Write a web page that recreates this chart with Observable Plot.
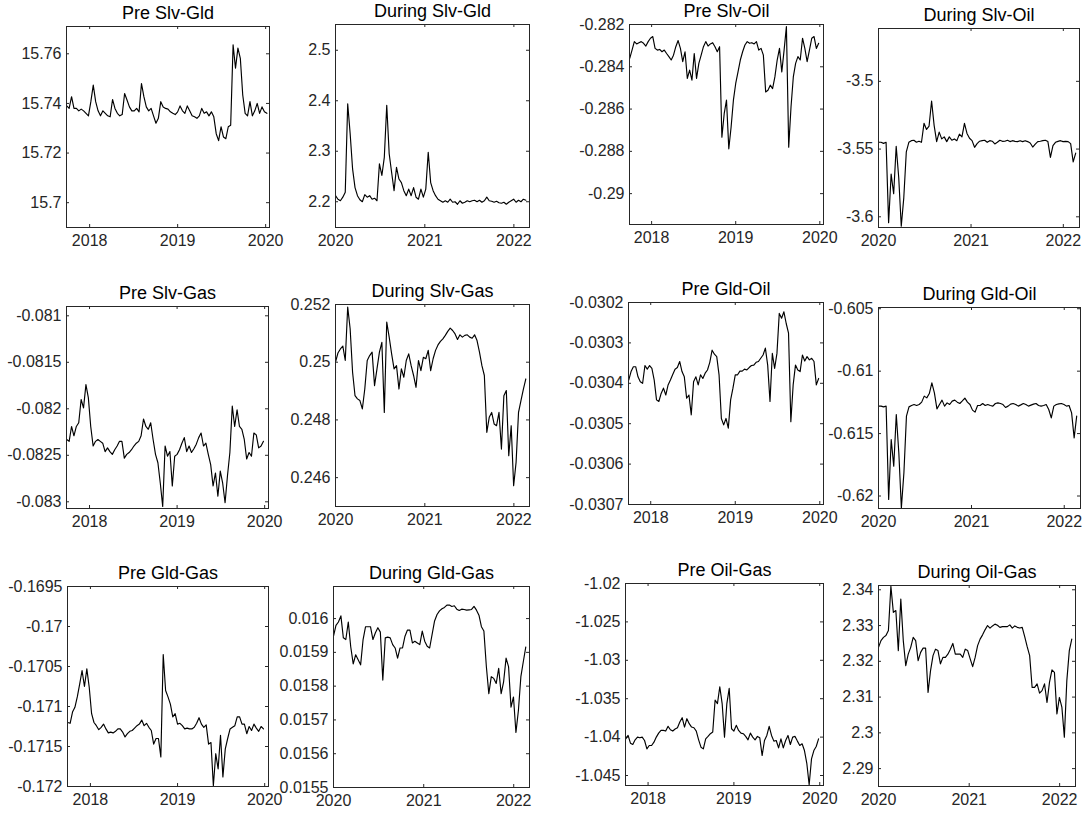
<!DOCTYPE html>
<html>
<head>
<meta charset="utf-8">
<script src="https://cdn.jsdelivr.net/npm/d3@7"></script>
<script src="https://cdn.jsdelivr.net/npm/@observablehq/plot@0.6"></script>
<style>
  html, body { margin: 0; padding: 0; background: #fff; }
  #page { position: relative; width: 1084px; height: 813px; overflow: hidden; background: #fff; }
  .cell { position: absolute; }
</style>
</head>
<body>
<div id="page"></div>
<script>
// ---------------- data ----------------
const preStart = "2017-09-28";     // first observation, pre-COVID window
const duringStart = "2020-01-01";  // first observation, during-COVID window
const stepDays = 10;               // spacing between observations
const preDomain = ["2017-09-27", "2020-01-17"];
const duringDomain = ["2020-01-01", "2022-03-06"];
const preYears = [2018, 2019, 2020];
const duringYears = [2020, 2021, 2022];

const titles = ["Pre Slv-Gld", "During Slv-Gld", "Pre Slv-Oil", "During Slv-Oil",
  "Pre Slv-Gas", "During Slv-Gas", "Pre Gld-Oil", "During Gld-Oil",
  "Pre Gld-Gas", "During Gld-Gas", "Pre Oil-Gas", "During Oil-Gas"];

const preSlvGld = [15.739, 15.738, 15.7427, 15.738, 15.738, 15.737, 15.7377, 15.737, 15.736, 15.735,
  15.7407, 15.7474, 15.7407, 15.737, 15.735, 15.737, 15.736, 15.735, 15.7346, 15.7416,
  15.738, 15.736, 15.735, 15.7355, 15.744, 15.7414, 15.7386, 15.737, 15.737, 15.738,
  15.7366, 15.748, 15.7427, 15.7386, 15.737, 15.738, 15.735, 15.732, 15.734, 15.7407,
  15.7386, 15.738, 15.7377, 15.7366, 15.736, 15.7355, 15.7366, 15.739, 15.737, 15.736,
  15.739, 15.737, 15.735, 15.7346, 15.734, 15.735, 15.738, 15.736, 15.7366, 15.735,
  15.7366, 15.7346, 15.7278, 15.725, 15.7306, 15.7265, 15.7258, 15.7306, 15.7312, 15.7636,
  15.7542, 15.7623, 15.7582, 15.7434, 15.736, 15.735, 15.7407, 15.735, 15.737, 15.74,
  15.736, 15.7386, 15.7366, 15.736];

const duringSlvGld = [2.212, 2.205, 2.202, 2.209, 2.219, 2.394, 2.335, 2.265, 2.228, 2.212,
  2.204, 2.2, 2.214, 2.209, 2.212, 2.205, 2.207, 2.202, 2.275, 2.252,
  2.288, 2.391, 2.295, 2.258, 2.222, 2.268, 2.245, 2.238, 2.222, 2.212,
  2.225, 2.212, 2.228, 2.209, 2.205, 2.225, 2.209, 2.225, 2.298, 2.238,
  2.222, 2.212, 2.205, 2.202, 2.199, 2.202, 2.199, 2.205, 2.199, 2.2,
  2.195, 2.202, 2.197, 2.199, 2.202, 2.2, 2.202, 2.203, 2.2, 2.203,
  2.199, 2.202, 2.209, 2.202, 2.201, 2.199, 2.201, 2.198, 2.197, 2.199,
  2.195, 2.199, 2.202, 2.205, 2.199, 2.203, 2.2, 2.205, 2.203];

const preSlvOil = [-0.2836, -0.28321, -0.28281, -0.28292, -0.28286, -0.28281, -0.28289, -0.28302, -0.28281, -0.28265,
  -0.28257, -0.28313, -0.28321, -0.28318, -0.28329, -0.28321, -0.28337, -0.28352, -0.28368, -0.28345,
  -0.28305, -0.28276, -0.28313, -0.28376, -0.28329, -0.28455, -0.28416, -0.28463, -0.28337, -0.28455,
  -0.28384, -0.28345, -0.28305, -0.28281, -0.28302, -0.28292, -0.28286, -0.28305, -0.28329, -0.28305,
  -0.28733, -0.28622, -0.28558, -0.28788, -0.28685, -0.28558, -0.28479, -0.28424, -0.28368, -0.28329,
  -0.28297, -0.28281, -0.28289, -0.28286, -0.28292, -0.28281, -0.28321, -0.28313, -0.28345, -0.28519,
  -0.28511, -0.28487, -0.28503, -0.28448, -0.28368, -0.28313, -0.28424, -0.28321, -0.2821, -0.2878,
  -0.2859, -0.28448, -0.28384, -0.28352, -0.28368, -0.28265, -0.28313, -0.28376, -0.28321, -0.28265,
  -0.28257, -0.28313, -0.28289];

const duringSlvOil = [-3.545, -3.545, -3.5458, -3.545, -3.6043, -3.5685, -3.583, -3.548, -3.571, -3.607,
  -3.586, -3.552, -3.545, -3.5438, -3.5435, -3.545, -3.5442, -3.545, -3.531, -3.5355,
  -3.533, -3.5145, -3.5325, -3.5445, -3.5375, -3.5425, -3.541, -3.5445, -3.541, -3.5435,
  -3.5425, -3.5438, -3.539, -3.541, -3.531, -3.5385, -3.542, -3.5438, -3.5487, -3.546,
  -3.5442, -3.5438, -3.5435, -3.545, -3.5438, -3.5442, -3.5462, -3.545, -3.5435, -3.5443,
  -3.5442, -3.5435, -3.5445, -3.5438, -3.5443, -3.5445, -3.5438, -3.5445, -3.5438, -3.5445,
  -3.5455, -3.5485, -3.5463, -3.5445, -3.5442, -3.5438, -3.5435, -3.5445, -3.5562, -3.5475,
  -3.545, -3.5443, -3.5438, -3.5445, -3.5443, -3.5445, -3.546, -3.5595, -3.553];

const preSlvGas = [-0.08233, -0.08235, -0.08219, -0.08229, -0.08219, -0.08215, -0.0819, -0.08199, -0.08174, -0.08188,
  -0.08219, -0.0824, -0.08235, -0.08233, -0.08235, -0.08237, -0.08246, -0.08242, -0.08246, -0.08249,
  -0.08244, -0.0824, -0.08235, -0.08235, -0.08253, -0.08249, -0.08247, -0.08244, -0.0824, -0.08237,
  -0.08235, -0.08229, -0.08211, -0.08219, -0.08222, -0.08215, -0.08233, -0.08249, -0.08258, -0.0828,
  -0.08305, -0.0824, -0.08251, -0.08246, -0.08283, -0.08251, -0.08249, -0.08244, -0.08237, -0.08231,
  -0.08246, -0.0824, -0.08247, -0.08243, -0.08238, -0.08231, -0.08226, -0.0824, -0.08237, -0.08249,
  -0.0826, -0.08283, -0.08269, -0.08294, -0.08267, -0.0828, -0.08301, -0.08272, -0.08247, -0.08197,
  -0.08219, -0.08201, -0.08219, -0.08222, -0.08233, -0.08254, -0.08247, -0.08251, -0.08226, -0.08228,
  -0.08242, -0.0824, -0.08235];

const duringSlvGas = [0.25, 0.25032, 0.25046, 0.25056, 0.25006, 0.25191, 0.25116, 0.24965, 0.24884, 0.24873,
  0.24867, 0.24838, 0.24907, 0.25006, 0.25023, 0.25035, 0.24919, 0.24977, 0.25035, 0.25069,
  0.24826, 0.25139, 0.25087, 0.25029, 0.24977, 0.24988, 0.24907, 0.24977, 0.24948, 0.25006,
  0.25029, 0.24988, 0.24954, 0.24913, 0.25006, 0.24971, 0.25017, 0.25012, 0.25041, 0.24971,
  0.25012, 0.25041, 0.2506, 0.25072, 0.25081, 0.25093, 0.25107, 0.25118, 0.2511, 0.25098,
  0.25079, 0.25095, 0.25087, 0.25093, 0.25095, 0.25087, 0.25083, 0.25095, 0.25075, 0.25035,
  0.24988, 0.24954, 0.24757, 0.24809, 0.24826, 0.24786, 0.2478, 0.24826, 0.24699, 0.24884,
  0.24902, 0.24676, 0.2478, 0.24572, 0.24653, 0.24826, 0.24867, 0.24907, 0.24942];

const preGldOil = [-0.030392, -0.030371, -0.030359, -0.030359, -0.030384, -0.030396, -0.0304, -0.030356, -0.030365, -0.030356,
  -0.030363, -0.030392, -0.030441, -0.030445, -0.030425, -0.030412, -0.030429, -0.030404, -0.030392, -0.030378,
  -0.030365, -0.030361, -0.030346, -0.030371, -0.030384, -0.030437, -0.030429, -0.030478, -0.030396, -0.030384,
  -0.030404, -0.030379, -0.030388, -0.030375, -0.030367, -0.030348, -0.030318, -0.030328, -0.030334, -0.030379,
  -0.030487, -0.030503, -0.030487, -0.030511, -0.030441, -0.030412, -0.030379, -0.030379, -0.03037, -0.03037,
  -0.030365, -0.030367, -0.030361, -0.030356, -0.030355, -0.030348, -0.030346, -0.030338, -0.03033, -0.030313,
  -0.030355, -0.030445, -0.030326, -0.030363, -0.030326, -0.030227, -0.030239, -0.030223, -0.030252, -0.030276,
  -0.030495, -0.030404, -0.030355, -0.030367, -0.030371, -0.03033, -0.030345, -0.030334, -0.030342, -0.030338,
  -0.030346, -0.030404, -0.030388];

const duringGldOil = [-0.6128, -0.6128, -0.61286, -0.6128, -0.62028, -0.61547, -0.61761, -0.61347, -0.61654, -0.62095,
  -0.61814, -0.6136, -0.61286, -0.61275, -0.61267, -0.61275, -0.61267, -0.61248, -0.612, -0.61214,
  -0.61179, -0.61093, -0.61174, -0.61302, -0.61267, -0.61232, -0.6128, -0.61254, -0.61267, -0.6124,
  -0.61232, -0.61248, -0.61259, -0.61238, -0.61216, -0.61248, -0.61267, -0.61312, -0.61328, -0.61275,
  -0.61275, -0.61259, -0.61275, -0.61267, -0.61275, -0.6128, -0.61259, -0.61254, -0.61259, -0.61267,
  -0.61291, -0.6128, -0.61264, -0.61259, -0.61267, -0.6128, -0.6127, -0.61259, -0.61267, -0.6128,
  -0.61272, -0.61264, -0.61259, -0.61275, -0.6128, -0.61275, -0.61267, -0.61307, -0.61374, -0.6128,
  -0.61267, -0.61262, -0.61259, -0.61267, -0.6128, -0.61275, -0.61334, -0.61534, -0.6136];

const preGldGas = [-0.1712, -0.17121, -0.17107, -0.17101, -0.17088, -0.17072, -0.17055, -0.17075, -0.17053, -0.17076,
  -0.17109, -0.1712, -0.17124, -0.17129, -0.17126, -0.17122, -0.17128, -0.17133, -0.17132, -0.17133,
  -0.17131, -0.17128, -0.17128, -0.17132, -0.17138, -0.17134, -0.17131, -0.1713, -0.17127, -0.17124,
  -0.17122, -0.17117, -0.17124, -0.17121, -0.17126, -0.1713, -0.17147, -0.1714, -0.1714, -0.17163,
  -0.17035, -0.1708, -0.17088, -0.17097, -0.17113, -0.17109, -0.17122, -0.17121, -0.17124, -0.17128,
  -0.17127, -0.17128, -0.17128, -0.17126, -0.17121, -0.17114, -0.17122, -0.17126, -0.17123, -0.17147,
  -0.17145, -0.17199, -0.17159, -0.17178, -0.17136, -0.17188, -0.17153, -0.1714, -0.17128, -0.17126,
  -0.17124, -0.17113, -0.17113, -0.17122, -0.17122, -0.17134, -0.17125, -0.1713, -0.17122, -0.17127,
  -0.17131, -0.17125, -0.17128];

const duringGldGas = [0.015948, 0.01598, 0.01599, 0.016008, 0.015943, 0.015938, 0.01599, 0.015916, 0.015866, 0.015893,
  0.015878, 0.015863, 0.015938, 0.015976, 0.015976, 0.015976, 0.015938, 0.015958, 0.015973, 0.01596,
  0.015818, 0.015943, 0.015945, 0.015943, 0.015923, 0.015913, 0.015883, 0.015913, 0.015913, 0.015948,
  0.015966, 0.015966, 0.015928, 0.015933, 0.015928, 0.015923, 0.015963, 0.015933, 0.015918, 0.015913,
  0.015953, 0.015993, 0.016012, 0.016023, 0.016029, 0.016033, 0.01604, 0.01604, 0.016036, 0.016038,
  0.016028, 0.016024, 0.016028, 0.016027, 0.016025, 0.016026, 0.016027, 0.016036, 0.016025, 0.01601,
  0.015976, 0.015963, 0.015858, 0.015778, 0.015828, 0.015823, 0.015808, 0.015853, 0.015778, 0.015813,
  0.015883, 0.015858, 0.015738, 0.015768, 0.015663, 0.015728, 0.015828, 0.015873, 0.015916];

const preOilGas = [-1.04022, -1.03978, -1.04079, -1.04096, -1.04035, -1.04, -1.04009, -1.04, -1.04044, -1.04153,
  -1.04109, -1.04109, -1.04066, -1.04, -1.03948, -1.03913, -1.03913, -1.03921, -1.0386, -1.03904,
  -1.03921, -1.03895, -1.03878, -1.03803, -1.03747, -1.03869, -1.0376, -1.03825, -1.03869, -1.03878,
  -1.03921, -1.04035, -1.04131, -1.04153, -1.04022, -1.03991, -1.03956, -1.03934, -1.03519, -1.03563,
  -1.03344, -1.03563, -1.04, -1.03563, -1.03366, -1.03891, -1.03921, -1.03847, -1.03913, -1.03948,
  -1.03956, -1.03991, -1.04035, -1.03948, -1.04, -1.04035, -1.03991, -1.04009, -1.0424, -1.04044,
  -1.03978, -1.0386, -1.03978, -1.04052, -1.04044, -1.0414, -1.04022, -1.0414, -1.04044, -1.03978,
  -1.04096, -1.04, -1.03991, -1.04052, -1.04109, -1.04087, -1.04175, -1.04341, -1.0462, -1.04284,
  -1.04175, -1.04122, -1.04022];

const duringOilGas = [2.3239, 2.3258, 2.3267, 2.3272, 2.3286, 2.341, 2.3337, 2.3342, 2.323, 2.3374,
  2.3258, 2.3188, 2.322, 2.3239, 2.3267, 2.3258, 2.3202, 2.3225, 2.3237, 2.3237,
  2.3113, 2.3174, 2.3216, 2.3234, 2.323, 2.3193, 2.3211, 2.3211, 2.322, 2.3234,
  2.325, 2.322, 2.322, 2.322, 2.3211, 2.3234, 2.323, 2.3207, 2.3185, 2.3211,
  2.3244, 2.3262, 2.3274, 2.3288, 2.33, 2.3293, 2.3299, 2.3304, 2.3301, 2.3295,
  2.3297, 2.3297, 2.3297, 2.3302, 2.3293, 2.3299, 2.3295, 2.3293, 2.3295, 2.3269,
  2.3241, 2.3216, 2.3127, 2.3127, 2.3137, 2.3111, 2.3118, 2.3137, 2.3085, 2.3141,
  2.3176, 2.3169, 2.3053, 2.3099, 2.3072, 2.2988, 2.3146, 2.323, 2.3262];

// y tick labels of each panel
const ticksPreSlvGld = [15.7, 15.72, 15.74, 15.76];
const ticksDuringSlvGld = [2.2, 2.3, 2.4, 2.5];
const ticksPreSlvOil = [-0.29, -0.288, -0.286, -0.284, -0.282];
const ticksDuringSlvOil = [-3.6, -3.55, -3.5];
const ticksPreSlvGas = [-0.083, -0.0825, -0.082, -0.0815, -0.081];
const ticksDuringSlvGas = [0.246, 0.248, 0.25, 0.252];
const ticksPreGldOil = [-0.0307, -0.0306, -0.0305, -0.0304, -0.0303, -0.0302];
const ticksDuringGldOil = [-0.62, -0.615, -0.61, -0.605];
const ticksPreGldGas = [-0.172, -0.1715, -0.171, -0.1705, -0.17, -0.1695];
const ticksDuringGldGas = [0.0155, 0.0156, 0.0157, 0.0158, 0.0159, 0.016];
const ticksPreOilGas = [-1.045, -1.04, -1.035, -1.03, -1.025, -1.02];
const ticksDuringOilGas = [2.29, 2.3, 2.31, 2.32, 2.33, 2.34];

// y-axis limits of each panel
const limPreSlvGld = [15.69, 15.771];
const limDuringSlvGld = [2.149, 2.551];
const limPreSlvOil = [-0.29146, -0.282];
const limDuringSlvOil = [-3.6079, -3.461];
const limPreSlvGas = [-0.083072, -0.0809];
const limDuringSlvGas = [0.245, 0.252];
const limPreGldOil = [-0.0307, -0.0302];
const limDuringGldOil = [-0.621, -0.6049];
const limPreGldGas = [-0.172, -0.1695];
const limDuringGldGas = [0.0155, 0.016095];
const limPreOilGas = [-1.0463, -1.02];
const limDuringOilGas = [2.285, 2.3412];

// ---------------- layout (frame boxes in page pixels: left, top, right, bottom) ----------------
const boxes = [
  [66, 26, 269, 227], [335, 24, 529, 227], [629, 24, 823, 224], [878, 28, 1079, 227],
  [66, 306, 268, 508], [335, 304, 529, 506], [628, 302, 823, 504], [878, 307, 1080, 508],
  [67, 586, 268, 786], [333, 586, 529, 787], [625, 583, 823, 785], [878, 585, 1075, 786]
];
const series = [preSlvGld, duringSlvGld, preSlvOil, duringSlvOil, preSlvGas, duringSlvGas,
  preGldOil, duringGldOil, preGldGas, duringGldGas, preOilGas, duringOilGas];
const yTicks = [ticksPreSlvGld, ticksDuringSlvGld, ticksPreSlvOil, ticksDuringSlvOil, ticksPreSlvGas, ticksDuringSlvGas,
  ticksPreGldOil, ticksDuringGldOil, ticksPreGldGas, ticksDuringGldGas, ticksPreOilGas, ticksDuringOilGas];
const yLims = [limPreSlvGld, limDuringSlvGld, limPreSlvOil, limDuringSlvOil, limPreSlvGas, limDuringSlvGas,
  limPreGldOil, limDuringGldOil, limPreGldGas, limDuringGldGas, limPreOilGas, limDuringOilGas];

const page = document.getElementById("page");
const axisColor = "#262626";
const DAY = 864e5;

titles.forEach((title, k) => {
  const isPre = k % 2 === 0;
  const [L, T, R, B] = boxes[k];
  const w = R - L, h = B - T;
  const ml = 72, mr = 14, mt = 36, mb = 32;
  const t0 = new Date((isPre ? preStart : duringStart) + "T00:00:00Z").getTime();
  const data = series[k].map((v, i) => ({date: new Date(t0 + i * stepDays * DAY), value: v}));
  const xTicks = (isPre ? preYears : duringYears).map(y => new Date(Date.UTC(y, 0, 1)));
  const dom = (isPre ? preDomain : duringDomain).map(s => new Date(s + "T00:00:00Z"));
  const tk = yTicks[k];
  const chart = Plot.plot({
    width: w + ml + mr,
    height: h + mt + mb,
    marginLeft: ml, marginRight: mr, marginTop: mt, marginBottom: mb,
    style: {
      fontFamily: "'Liberation Sans', Arial, Helvetica, sans-serif",
      fontSize: "16px",
      background: "none",
      overflow: "visible",
      color: axisColor,
      maxWidth: "none"
    },
    x: {type: "utc", domain: dom},
    y: {domain: yLims[k]},
    marks: [
      Plot.axisX({ticks: xTicks, tickSize: 0, tickPadding: 7, label: null,
        tickFormat: d => String(d.getUTCFullYear())}),
      Plot.axisY({ticks: tk, tickSize: 0, tickPadding: 5, label: null,
        tickFormat: d => String(d)}),
      Plot.tickX(xTicks, {x: d => d, insetTop: h - 3, stroke: axisColor}),
      Plot.tickX(xTicks, {x: d => d, insetBottom: h - 3, stroke: axisColor}),
      Plot.tickY(tk, {y: d => d, insetRight: w - 3, stroke: axisColor}),
      Plot.tickY(tk, {y: d => d, insetLeft: w - 3, stroke: axisColor}),
      Plot.line(data, {x: "date", y: "value", stroke: "#000", strokeWidth: 1.15, clip: true}),
      Plot.frame({stroke: axisColor, strokeWidth: 1}),
      Plot.text([title], {text: d => d, frameAnchor: "top", dy: -13, lineAnchor: "middle",
        fontSize: 18, fill: "#000"})
    ]
  });
  const cell = document.createElement("div");
  cell.className = "cell";
  cell.style.left = (L - ml) + "px";
  cell.style.top = (T - mt) + "px";
  cell.appendChild(chart);
  page.appendChild(cell);
});
</script>
</body>
</html>
